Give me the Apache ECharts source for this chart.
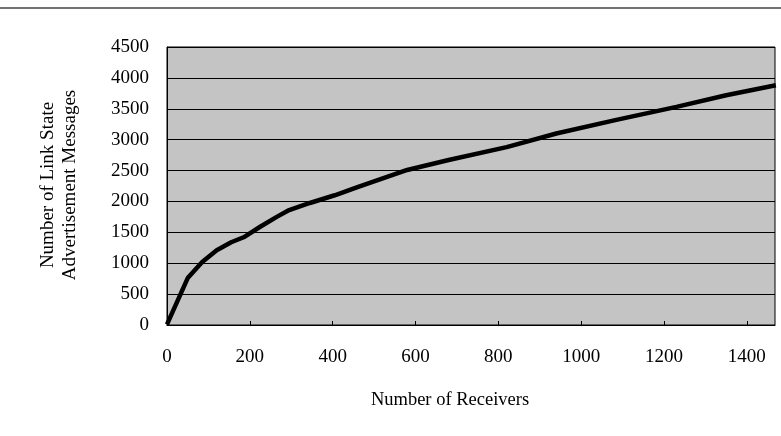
<!DOCTYPE html>
<html>
<head>
<meta charset="utf-8">
<script src="https://cdn.jsdelivr.net/npm/echarts@6/dist/echarts.min.js"></script>
<style>
  html, body { margin: 0; padding: 0; background: #fff; }
  #main { width: 781px; height: 436px; }
</style>
</head>
<body>
<div id="main"></div>
<script type="text/javascript">
// receivers vs. LSA messages
var receivers = [0, 50, 85, 120, 155, 185, 225, 265, 295, 345, 405, 460, 580, 680, 820, 940, 1085, 1230, 1350, 1470];
var messages  = [10, 760, 1020, 1210, 1340, 1420, 1590, 1750, 1860, 1975, 2100, 2230, 2510, 2670, 2880, 3100, 3320, 3530, 3720, 3880];
var yTicks = [0, 500, 1000, 1500, 2000, 2500, 3000, 3500, 4000, 4500];
var xTicks = [0, 200, 400, 600, 800, 1000, 1200, 1400];

var font = '"Liberation Serif", "Times New Roman", serif';

var pts = [];
for (var i = 0; i < receivers.length; i++) {
    pts.push([receivers[i], messages[i]]);
}

var chart = echarts.init(document.getElementById('main'));
chart.setOption({
    backgroundColor: '#ffffff',
    animation: false,
    grid: {
        left: 167,
        right: 6,
        top: 47,
        bottom: 111,
        show: true,
        backgroundColor: '#c4c4c4',
        borderColor: '#000',
        borderWidth: 1
    },
    xAxis: {
        type: 'value',
        min: 0,
        max: 1468,
        interval: 200,
        axisLine: { show: true, lineStyle: { color: '#000', width: 1 } },
        axisTick: { show: true, inside: true, length: 4, lineStyle: { color: '#000' } },
        splitLine: { show: false },
        axisLabel: {
            color: '#000',
            fontFamily: font,
            fontSize: 19,
            margin: 23,
            showMaxLabel: false,
            formatter: function (v) { return xTicks.indexOf(v) >= 0 ? v : ''; }
        }
    },
    yAxis: {
        type: 'value',
        min: 0,
        max: 4500,
        interval: 500,
        axisLine: { show: true, lineStyle: { color: '#000', width: 1 } },
        axisTick: { show: false },
        splitLine: { show: true, lineStyle: { color: '#000', width: 1 } },
        axisLabel: {
            color: '#000',
            fontFamily: font,
            fontSize: 19,
            margin: 18,
            formatter: function (v) { return yTicks.indexOf(v) >= 0 ? v : ''; }
        }
    },
    graphic: [
        {
            type: 'line',
            shape: { x1: 0, y1: 8, x2: 781, y2: 8 },
            style: { stroke: '#444', lineWidth: 1.5 }
        },
        {
            type: 'text',
            x: 450, y: 400,
            style: {
                text: 'Number of Receivers',
                font: '18.5px ' + font,
                fill: '#000',
                align: 'center',
                verticalAlign: 'middle'
            }
        },
        {
            type: 'text',
            x: 48, y: 185,
            rotation: Math.PI / 2,
            style: {
                text: 'Number of Link State',
                font: '19px ' + font,
                fill: '#000',
                align: 'center',
                verticalAlign: 'middle'
            }
        },
        {
            type: 'text',
            x: 70, y: 185,
            rotation: Math.PI / 2,
            style: {
                text: 'Advertisement Messages',
                font: '19px ' + font,
                fill: '#000',
                align: 'center',
                verticalAlign: 'middle'
            }
        }
    ],
    series: [{
        type: 'line',
        data: pts,
        showSymbol: false,
        smooth: false,
        lineStyle: { color: '#000', width: 4.5 }
    }]
});
</script>
</body>
</html>
